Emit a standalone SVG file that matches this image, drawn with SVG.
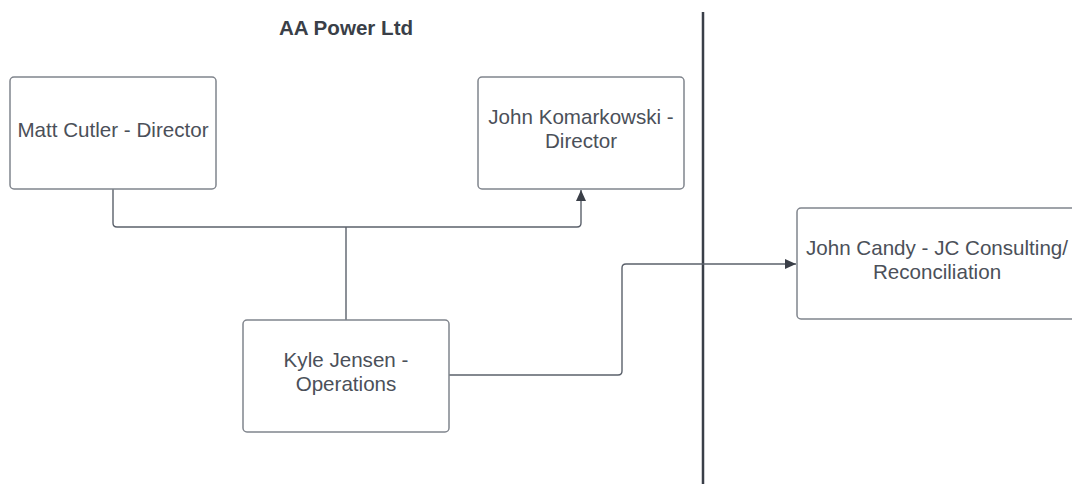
<svg xmlns="http://www.w3.org/2000/svg" width="1072" height="484" viewBox="0 0 1072 484">
<defs>
<style>
.box{fill:#fff;stroke:#80858d;stroke-width:1.5}
.t{font-family:"Liberation Sans",Arial,sans-serif;font-size:20.6px;fill:#4b5059;text-anchor:middle}
.title{font-family:"Liberation Sans",Arial,sans-serif;font-size:20.6px;font-weight:bold;fill:#3a3f48;text-anchor:middle}
.c{fill:none;stroke:#5b616b;stroke-width:1.4}
</style>
<marker id="ah" markerWidth="12" markerHeight="10" refX="11" refY="5" orient="auto" markerUnits="userSpaceOnUse">
<path d="M0,0 L11,5 L0,10 Z" fill="#3a3f48"/>
</marker>
</defs>
<rect width="1072" height="484" fill="#fff"/>
<text class="title" x="346" y="35">AA Power Ltd</text>
<line x1="703" y1="12" x2="703" y2="484" stroke="#3a3f48" stroke-width="2.5"/>
<g id="connectors">
<path class="c" d="M113,189 V223 Q113,227 117,227 H577 Q581,227 581,223 V190" marker-end="url(#ah)"/>
<path class="c" d="M346,227 V320" stroke-width="2"/>
<path class="c" d="M449,375 H618 Q622,375 622,371 V268 Q622,264 626,264 H796" marker-end="url(#ah)"/>
</g>
<g id="matt">
<rect class="box" x="10" y="77" width="206" height="112" rx="4"/>
<text class="t" x="113" y="137">Matt Cutler - Director</text>
</g>
<g id="johnk">
<rect class="box" x="478" y="77" width="206" height="112" rx="4"/>
<text class="t" x="581" y="124">John Komarkowski -</text>
<text class="t" x="581" y="148">Director</text>
</g>
<g id="kyle">
<rect class="box" x="243" y="320" width="206" height="112" rx="4"/>
<text class="t" x="346" y="367">Kyle Jensen -</text>
<text class="t" x="346" y="391">Operations</text>
</g>
<g id="johnc">
<rect class="box" x="797" y="208" width="279" height="111" rx="4"/>
<text class="t" x="937" y="255">John Candy - JC Consulting/</text>
<text class="t" x="937" y="279">Reconciliation</text>
</g>
</svg>
